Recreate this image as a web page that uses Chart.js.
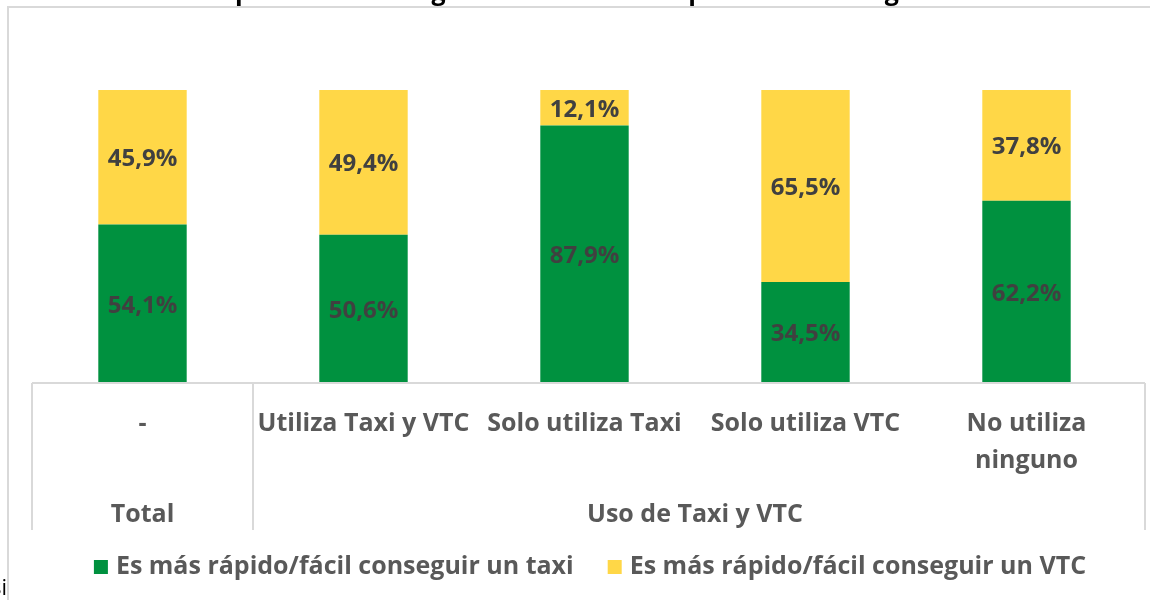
<!DOCTYPE html>
<html>
<head>
<meta charset="utf-8">
<script src="https://cdn.jsdelivr.net/npm/chart.js@4/dist/chart.umd.min.js"></script>
<style>
  html, body { margin: 0; padding: 0; background: #fff; overflow: hidden; }
</style>
</head>
<body>
<canvas id="chart" width="1150" height="600"></canvas>
<script>
// Chart values
var categories = ['-', 'Utiliza Taxi y VTC', 'Solo utiliza Taxi', 'Solo utiliza VTC', ['No utiliza', 'ninguno']];
var groups = [
    { label: 'Total', from: 0, to: 0 },
    { label: 'Uso de Taxi y VTC', from: 1, to: 4 }
];
var taxiValues = [54.1, 50.6, 87.9, 34.5, 62.2];
var vtcValues = [45.9, 49.4, 12.1, 65.5, 37.8];
var seriesNames = ['Es más rápido/fácil conseguir un taxi', 'Es más rápido/fácil conseguir un VTC'];
var titleText = 'Es más rápido/fácil conseguir un taxi o más rápido/fácil conseguir un VTC';

var FONT = '"Open Sans", "Noto Sans", sans-serif';
var GREEN = '#00913f';
var YELLOW = '#ffd747';
var LINE = '#d9d9d9';

    // Formats a value as Spanish percentage text
    function formatPct(v) {
        return v.toFixed(1).replace('.', ',') + '%';
    }

    // Frame, clipped title and the stray text in the corner
    var framePlugin = {
        id: 'frame',
        beforeDraw: function (chart) {
            var ctx = chart.ctx;
            ctx.save();
            ctx.strokeStyle = LINE;
            ctx.lineWidth = 2;
            ctx.beginPath();
            ctx.moveTo(8, 600);
            ctx.lineTo(8, 7);
            ctx.lineTo(1150, 7);
            ctx.stroke();
            // only the descenders of the title are inside the picture
            ctx.fillStyle = '#000';
            ctx.font = 'bold 25px ' + FONT;
            ctx.textAlign = 'left';
            ctx.textBaseline = 'alphabetic';
            ctx.fillText(titleText, 235 - ctx.measureText('Es más rá').width, 0);
            ctx.font = '22px ' + FONT;
            ctx.textAlign = 'right';
            ctx.fillText('si', 7, 595);
            ctx.restore();
        }
    };

    // Value labels, category axis with groups, and legend
    var labelsPlugin = {
        id: 'labels',
        afterDraw: function (chart) {
            var ctx = chart.ctx;
            var area = chart.chartArea;
            var x = chart.scales.x;
            var step = x.getPixelForValue(1) - x.getPixelForValue(0);
            var left = x.getPixelForValue(0) - step / 2;
            var right = x.getPixelForValue(categories.length - 1) + step / 2 + 8;
            var axisBottom = 530;
            ctx.save();

            // labels inside the bar segments
            ctx.font = 'bold 24px ' + FONT;
            ctx.fillStyle = '#404040';
            ctx.textAlign = 'center';
            ctx.textBaseline = 'middle';
            chart.data.datasets.forEach(function (ds, di) {
                chart.getDatasetMeta(di).data.forEach(function (bar, i) {
                    var p = bar.getProps(['x', 'y', 'base'], true);
                    ctx.fillText(formatPct(ds.data[i]), p.x, (p.y + p.base) / 2 + 2);
                });
            });

            // axis lines
            ctx.strokeStyle = LINE;
            ctx.lineWidth = 2;
            ctx.beginPath();
            ctx.moveTo(left, area.bottom);
            ctx.lineTo(right, area.bottom);
            ctx.moveTo(left, area.bottom);
            ctx.lineTo(left, axisBottom);
            ctx.moveTo(right, area.bottom);
            ctx.lineTo(right, axisBottom);
            groups.forEach(function (g, gi) {
                if (gi > 0) {
                    var gx = x.getPixelForValue(g.from) - step / 2;
                    ctx.moveTo(gx, area.bottom);
                    ctx.lineTo(gx, axisBottom);
                }
            });
            ctx.stroke();

            // category labels
            ctx.fillStyle = '#595959';
            ctx.font = 'bold 25px ' + FONT;
            categories.forEach(function (c, i) {
                var lines = Array.isArray(c) ? c : [c];
                lines.forEach(function (t, li) {
                    ctx.fillText(t, x.getPixelForValue(i), 424 + li * 37);
                });
            });

            // group labels
            groups.forEach(function (g) {
                var gx = (x.getPixelForValue(g.from) + x.getPixelForValue(g.to)) / 2;
                ctx.fillText(g.label, gx, 515);
            });

            // legend
            ctx.font = 'bold 25px ' + FONT;
            ctx.textAlign = 'left';
            var box = 14, gap = 8, itemGap = 34;
            var widths = chart.data.datasets.map(function (ds) {
                return box + gap + ctx.measureText(ds.label).width;
            });
            var total = widths.reduce(function (a, b) { return a + b; }, 0) + itemGap * (widths.length - 1);
            var lx = 590 - total / 2;
            chart.data.datasets.forEach(function (ds, di) {
                ctx.fillStyle = ds.backgroundColor;
                ctx.fillRect(lx, 560, box, box);
                ctx.fillStyle = '#595959';
                ctx.fillText(ds.label, lx + box + gap, 567);
                lx += widths[di] + itemGap;
            });
            ctx.restore();
        }
    };

    function drawChart() {
        var ctx = document.getElementById('chart').getContext('2d');
        var config = {
            type: 'bar',
            data: {
                labels: categories,
                datasets: [{
                    label: seriesNames[0],
                    data: taxiValues,
                    backgroundColor: GREEN,
                    borderWidth: 0,
                    categoryPercentage: 1,
                    barPercentage: 0.4
                }, {
                    label: seriesNames[1],
                    data: vtcValues,
                    backgroundColor: YELLOW,
                    borderWidth: 0,
                    categoryPercentage: 1,
                    barPercentage: 0.4
                }]
            },
            options: {
                responsive: false,
                animation: false,
                layout: {
                    padding: { left: 32, right: 13, top: 90, bottom: 217 }
                },
                scales: {
                    x: { stacked: true, display: false },
                    y: { stacked: true, display: false, min: 0, max: 100 }
                },
                plugins: {
                    legend: { display: false },
                    tooltip: { enabled: false }
                }
            },
            plugins: [framePlugin, labelsPlugin]
        };
        new Chart(ctx, config);
    }

    drawChart();
</script>
</body>
</html>
